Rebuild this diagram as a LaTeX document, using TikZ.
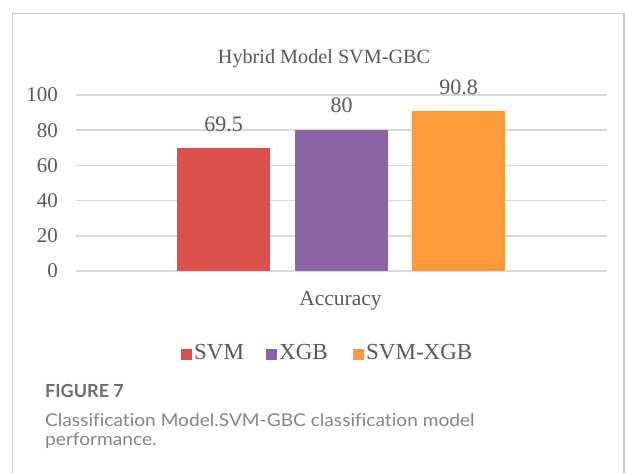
\documentclass[tikz,border=0pt]{standalone}
\usepackage{fontspec}
\setmainfont{Liberation Serif}
\newfontfamily\capfont[Ligatures=NoCommon,FakeStretch=1.08]{Lato}
\newfontfamily\figfont{Lato}
\usetikzlibrary{positioning}
\definecolor{svmred}{HTML}{DB504A}
\definecolor{xgbpurple}{HTML}{8A64A5}
\definecolor{hybridorange}{HTML}{FF9A3B}
\definecolor{gridgray}{HTML}{D9D9D9}
\definecolor{txtgray}{HTML}{595959}
\definecolor{framegray}{HTML}{C8C8C8}
\definecolor{capgray}{HTML}{858585}
\definecolor{figgray}{HTML}{6D6D6D}
\newcommand{\fsz}[1]{\fontsize{#1}{#1}\selectfont}
\begin{document}
\begin{tikzpicture}[x=1pt,y=-1pt,
    every node/.style={inner sep=0pt},
    bar/.style={minimum width=93pt,anchor=south},
    val/.style={anchor=base,text=txtgray,font=\fsz{22}},
    tick/.style={anchor=east,text=txtgray,font=\fsz{21}},
    gridline/.style={draw=gridgray,line width=1.6pt},
    key/.style={minimum size=11.5pt},
    legtxt/.style={anchor=base west,text=txtgray,font=\fsz{23}},
    captxt/.style={anchor=base west,text=capgray,font=\capfont\fsz{17.7}}]
\useasboundingbox (0,0) rectangle (625,473);
% frame
\draw[framegray,line width=1.3pt] (12.5,480) -- (12.5,13.5) -- (624,13.5) -- (624,480);
% grid and axis values
\foreach \v in {0,20,...,100}{
  \draw[gridline] (76,{271-1.76*\v}) -- (607,{271-1.76*\v});
  \node[tick] (y\v) at (58,{271-1.76*\v}) {\v};
}
% bars
\node[bar,fill=svmred,minimum height=122.32pt] (svm) at (223.5,271) {};
\node[bar,fill=xgbpurple,minimum height=140.8pt] (xgb) at (341.5,271) {};
\node[bar,fill=hybridorange,minimum height=159.8pt] (hyb) at (458.5,271) {};
\node[val] (svmval) at ([yshift=17pt]svm.north) {69.5};
\node[val] (xgbval) at ([yshift=17pt]xgb.north) {80};
\node[val] (hybval) at ([yshift=16.5pt]hyb.north) {90.8};
% titles
\node[anchor=base,text=txtgray,font=\fsz{20.2}] (title) at (324,64) {Hybrid Model SVM-GBC};
\node[anchor=base,text=txtgray,font=\fsz{21.5}] (xlab) at (340.5,306) {Accuracy};
% legend
\node[key,fill=svmred] (ksvm) at (186.5,354.5) {};
\node[legtxt] (lsvm) at (194,360) {SVM};
\node[key,fill=xgbpurple] (kxgb) at (271.5,354.5) {};
\node[legtxt] (lxgb) at (279,360) {XGB};
\node[key,fill=hybridorange] (khyb) at (358.5,354.5) {};
\node[legtxt] (lhyb) at (366,360) {SVM-XGB};
% caption
\node[anchor=base west,text=figgray,font=\figfont\bfseries\fsz{18}] (fig) at (45,398) {FIGURE 7};
\node[captxt] (cap1) at (45,426.7) {Classification Model.SVM-GBC classification model};
\node[captxt] (cap2) at (45,445.5) {performance.};
\end{tikzpicture}
\end{document}
